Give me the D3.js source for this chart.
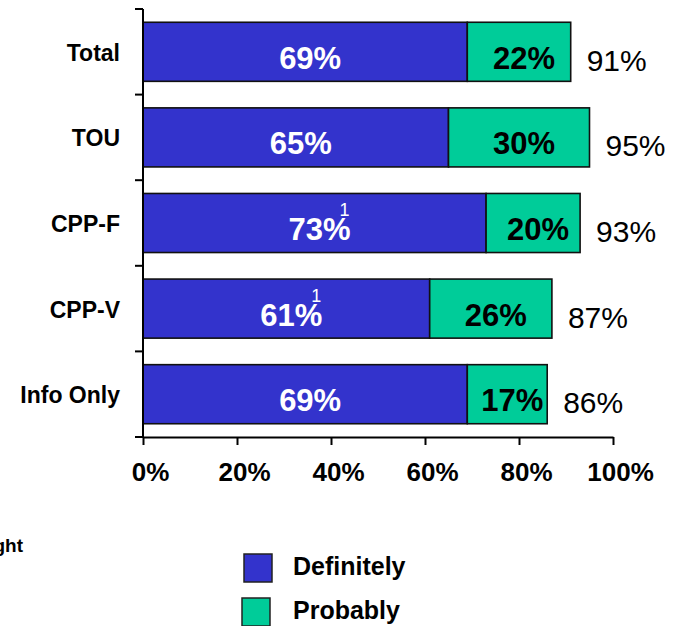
<!DOCTYPE html>
<html>
<head>
<meta charset="utf-8">
<script src="https://cdn.jsdelivr.net/npm/d3@7"></script>
<style>
  body { margin: 0; background: #fff; }
  svg { display: block; font-family: Arial, "Liberation Sans", sans-serif; }
</style>
</head>
<body>
<div id="chart"></div>
<script>
// data
var categories = ["Total", "TOU", "CPP-F", "CPP-V", "Info Only"];
var definitely = [69, 65, 73, 61, 69];
var probably = [22, 30, 20, 26, 17];
var footnotes = ["", "", "1", "1", ""];
var xTicks = [0, 20, 40, 60, 80, 100];
var seriesNames = ["Definitely", "Probably"];

var width = 681, height = 626;
var blue = "#3333cc", green = "#00cc99";

var svg = d3.select("#chart").append("svg")
  .attr("width", width)
  .attr("height", height);

var x = d3.scaleLinear().domain([0, 100]).range([143, 613]);
var y = d3.scaleBand().domain(categories).range([9, 437])
  .paddingInner(0.31).paddingOuter(0.155);

var rows = categories.map(function(c, i) {
  return {cat: c, def: definitely[i], prob: probably[i], note: footnotes[i]};
});

// bars
var g = svg.append("g");
g.selectAll(".def").data(rows).enter().append("rect")
  .attr("x", x(0))
  .attr("y", d => y(d.cat))
  .attr("width", d => x(d.def) - x(0))
  .attr("height", y.bandwidth())
  .attr("fill", blue)
  .attr("stroke", "#111").attr("stroke-width", 1.6);

g.selectAll(".prob").data(rows).enter().append("rect")
  .attr("x", d => x(d.def))
  .attr("y", d => y(d.cat))
  .attr("width", d => x(d.def + d.prob) - x(d.def))
  .attr("height", y.bandwidth())
  .attr("fill", green)
  .attr("stroke", "#111").attr("stroke-width", 1.6);

// value labels
var mid = d => y(d.cat) + y.bandwidth() / 2;

var defLabels = g.selectAll(".defLabel").data(rows).enter().append("text")
  .attr("x", d => (x(0) + x(d.def)) / 2 + 5)
  .attr("y", d => mid(d) + 17)
  .attr("text-anchor", "middle")
  .attr("font-size", 31).attr("font-weight", "bold")
  .attr("fill", "#fff")
  .text(d => d.def + "%");

// footnote markers over the % sign
defLabels.each(function(d) {
  if (!d.note) return;
  var bb = this.getBBox();
  g.append("text")
    .attr("x", bb.x + bb.width - 1)
    .attr("y", mid(d) + 17 - 24)
    .attr("text-anchor", "end")
    .attr("font-size", 18)
    .attr("fill", "#fff")
    .text(d.note);
});

g.selectAll(".probLabel").data(rows).enter().append("text")
  .attr("x", d => (x(d.def) + x(d.def + d.prob)) / 2 + 5)
  .attr("y", d => mid(d) + 17)
  .attr("text-anchor", "middle")
  .attr("font-size", 31).attr("font-weight", "bold")
  .attr("fill", "#000")
  .text(d => d.prob + "%");

g.selectAll(".totLabel").data(rows).enter().append("text")
  .attr("x", d => x(d.def + d.prob) + 16)
  .attr("y", d => mid(d) + 19)
  .attr("font-size", 30)
  .attr("fill", "#000")
  .text(d => (d.def + d.prob) + "%");

// x axis
var xAxis = d3.axisBottom(x)
  .tickValues(xTicks)
  .tickSize(8)
  .tickSizeOuter(0)
  .tickFormat(d => d + "%");

var gX = svg.append("g")
  .attr("transform", "translate(0," + y.range()[1] + ")")
  .call(xAxis);
gX.select(".domain").attr("stroke", "#000").attr("stroke-width", 2);
gX.selectAll(".tick line").attr("stroke", "#000").attr("stroke-width", 2);
gX.selectAll(".tick text")
  .attr("y", 44).attr("dy", 0).attr("dx", 7)
  .attr("font-size", 26).attr("font-weight", "bold")
  .attr("font-family", "Arial, 'Liberation Sans', sans-serif")
  .attr("fill", "#000");

// y axis: line plus ticks at the band boundaries
var y0 = y.range()[0], y1 = y.range()[1];
svg.append("line")
  .attr("x1", x(0)).attr("x2", x(0))
  .attr("y1", y0).attr("y2", y1)
  .attr("stroke", "#000").attr("stroke-width", 2);
svg.selectAll(".ytick").data(d3.range(categories.length + 1)).enter().append("line")
  .attr("x1", x(0) - 8).attr("x2", x(0))
  .attr("y1", i => y0 + i * y.step())
  .attr("y2", i => y0 + i * y.step())
  .attr("stroke", "#000").attr("stroke-width", 2);

svg.selectAll(".cat").data(rows).enter().append("text")
  .attr("x", 120)
  .attr("y", d => mid(d) + 9)
  .attr("text-anchor", "end")
  .attr("font-size", 23).attr("font-weight", "bold")
  .text(d => d.cat);

// clipped note at left edge
svg.append("text")
  .attr("x", 23).attr("y", 552)
  .attr("text-anchor", "end")
  .attr("font-size", 19).attr("font-weight", "bold")
  .text("Weight");

// legend
var legend = svg.append("g");
var legendColors = [blue, green];
var legendPos = [[244, 554], [242, 598]];
seriesNames.forEach(function(name, i) {
  legend.append("rect")
    .attr("x", legendPos[i][0]).attr("y", legendPos[i][1])
    .attr("width", 28).attr("height", 28)
    .attr("fill", legendColors[i])
    .attr("stroke", "#222").attr("stroke-width", 1.5);
  legend.append("text")
    .attr("x", 293).attr("y", legendPos[i][1] + 21)
    .attr("font-size", 25).attr("font-weight", "bold")
    .text(name);
});
</script>
</body>
</html>
